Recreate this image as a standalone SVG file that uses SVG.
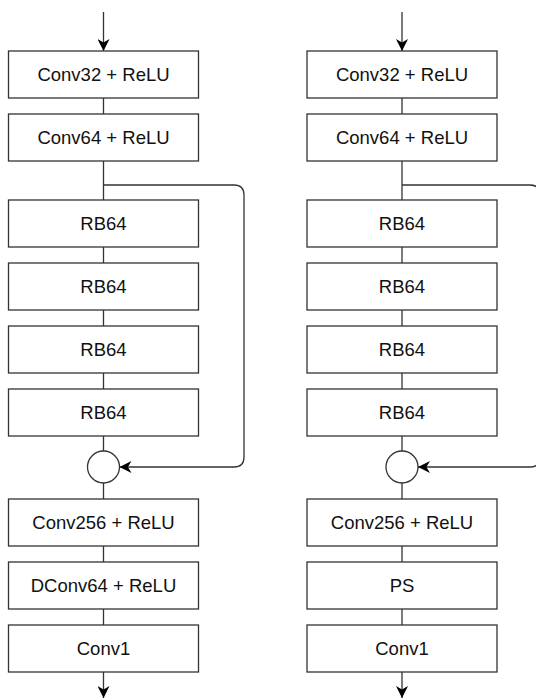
<svg xmlns="http://www.w3.org/2000/svg" width="536" height="700" viewBox="0 0 536 700">
<defs>
<marker id="arr" viewBox="0 0 10 10" refX="10" refY="5" markerWidth="12" markerHeight="12" markerUnits="userSpaceOnUse" orient="auto">
<path d="M0,0 L10,5 L0,10 L3,5 Z" fill="#000"/>
</marker>
<style>
.box{fill:#fff;stroke:#333;stroke-width:1.3}
.lbl{font-family:"Liberation Sans",Arial,sans-serif;font-size:18.5px;fill:#111;text-anchor:middle;dominant-baseline:central}
.ln{fill:none;stroke:#333;stroke-width:1.3}
.ar{fill:none;stroke:#333;stroke-width:1.3;marker-end:url(#arr)}
</style>
</defs>
<rect width="536" height="700" fill="#fff"/>
<g id="connectors">
<path class="ar" d="M103.5,12 V51"/>
<path class="ln" d="M103.5,98 V114"/>
<path class="ln" d="M103.5,161 V200"/>
<path class="ln" d="M103.5,247 V263"/>
<path class="ln" d="M103.5,310 V326"/>
<path class="ln" d="M103.5,373 V389"/>
<path class="ln" d="M103.5,436 V451"/>
<path class="ln" d="M103.5,483 V499"/>
<path class="ln" d="M103.5,546 V562"/>
<path class="ln" d="M103.5,609 V625"/>
<path class="ar" d="M103.5,672 V698"/>
<path class="ar" d="M103.5,185 H234 Q244,185 244,195 V457 Q244,467 234,467 H119.5"/>
<path class="ar" d="M402,12 V51"/>
<path class="ln" d="M402,98 V114"/>
<path class="ln" d="M402,161 V200"/>
<path class="ln" d="M402,247 V263"/>
<path class="ln" d="M402,310 V326"/>
<path class="ln" d="M402,373 V389"/>
<path class="ln" d="M402,436 V451"/>
<path class="ln" d="M402,483 V499"/>
<path class="ln" d="M402,546 V562"/>
<path class="ln" d="M402,609 V625"/>
<path class="ar" d="M402,672 V698"/>
<path class="ar" d="M402,185 H530 Q540,185 540,195 V457 Q540,467 530,467 H418"/>
</g>
<g id="l-conv32"><rect class="box" x="8.5" y="51" width="190" height="47"/><text class="lbl" x="103.5" y="74.5">Conv32 + ReLU</text></g>
<g id="l-conv64"><rect class="box" x="8.5" y="114" width="190" height="47"/><text class="lbl" x="103.5" y="137.5">Conv64 + ReLU</text></g>
<g id="l-rb1"><rect class="box" x="8.5" y="200" width="190" height="47"/><text class="lbl" x="103.5" y="223.5">RB64</text></g>
<g id="l-rb2"><rect class="box" x="8.5" y="263" width="190" height="47"/><text class="lbl" x="103.5" y="286.5">RB64</text></g>
<g id="l-rb3"><rect class="box" x="8.5" y="326" width="190" height="47"/><text class="lbl" x="103.5" y="349.5">RB64</text></g>
<g id="l-rb4"><rect class="box" x="8.5" y="389" width="190" height="47"/><text class="lbl" x="103.5" y="412.5">RB64</text></g>
<g id="l-sum"><circle class="box" cx="103.5" cy="467" r="16"/></g>
<g id="l-conv256"><rect class="box" x="8.5" y="499" width="190" height="47"/><text class="lbl" x="103.5" y="522.5">Conv256 + ReLU</text></g>
<g id="l-dconv"><rect class="box" x="8.5" y="562" width="190" height="47"/><text class="lbl" x="103.5" y="585.5">DConv64 + ReLU</text></g>
<g id="l-conv1"><rect class="box" x="8.5" y="625" width="190" height="47"/><text class="lbl" x="103.5" y="648.5">Conv1</text></g>
<g id="r-conv32"><rect class="box" x="307" y="51" width="190" height="47"/><text class="lbl" x="402" y="74.5">Conv32 + ReLU</text></g>
<g id="r-conv64"><rect class="box" x="307" y="114" width="190" height="47"/><text class="lbl" x="402" y="137.5">Conv64 + ReLU</text></g>
<g id="r-rb1"><rect class="box" x="307" y="200" width="190" height="47"/><text class="lbl" x="402" y="223.5">RB64</text></g>
<g id="r-rb2"><rect class="box" x="307" y="263" width="190" height="47"/><text class="lbl" x="402" y="286.5">RB64</text></g>
<g id="r-rb3"><rect class="box" x="307" y="326" width="190" height="47"/><text class="lbl" x="402" y="349.5">RB64</text></g>
<g id="r-rb4"><rect class="box" x="307" y="389" width="190" height="47"/><text class="lbl" x="402" y="412.5">RB64</text></g>
<g id="r-sum"><circle class="box" cx="402" cy="467" r="16"/></g>
<g id="r-conv256"><rect class="box" x="307" y="499" width="190" height="47"/><text class="lbl" x="402" y="522.5">Conv256 + ReLU</text></g>
<g id="r-ps"><rect class="box" x="307" y="562" width="190" height="47"/><text class="lbl" x="402" y="585.5">PS</text></g>
<g id="r-conv1"><rect class="box" x="307" y="625" width="190" height="47"/><text class="lbl" x="402" y="648.5">Conv1</text></g>
</svg>
